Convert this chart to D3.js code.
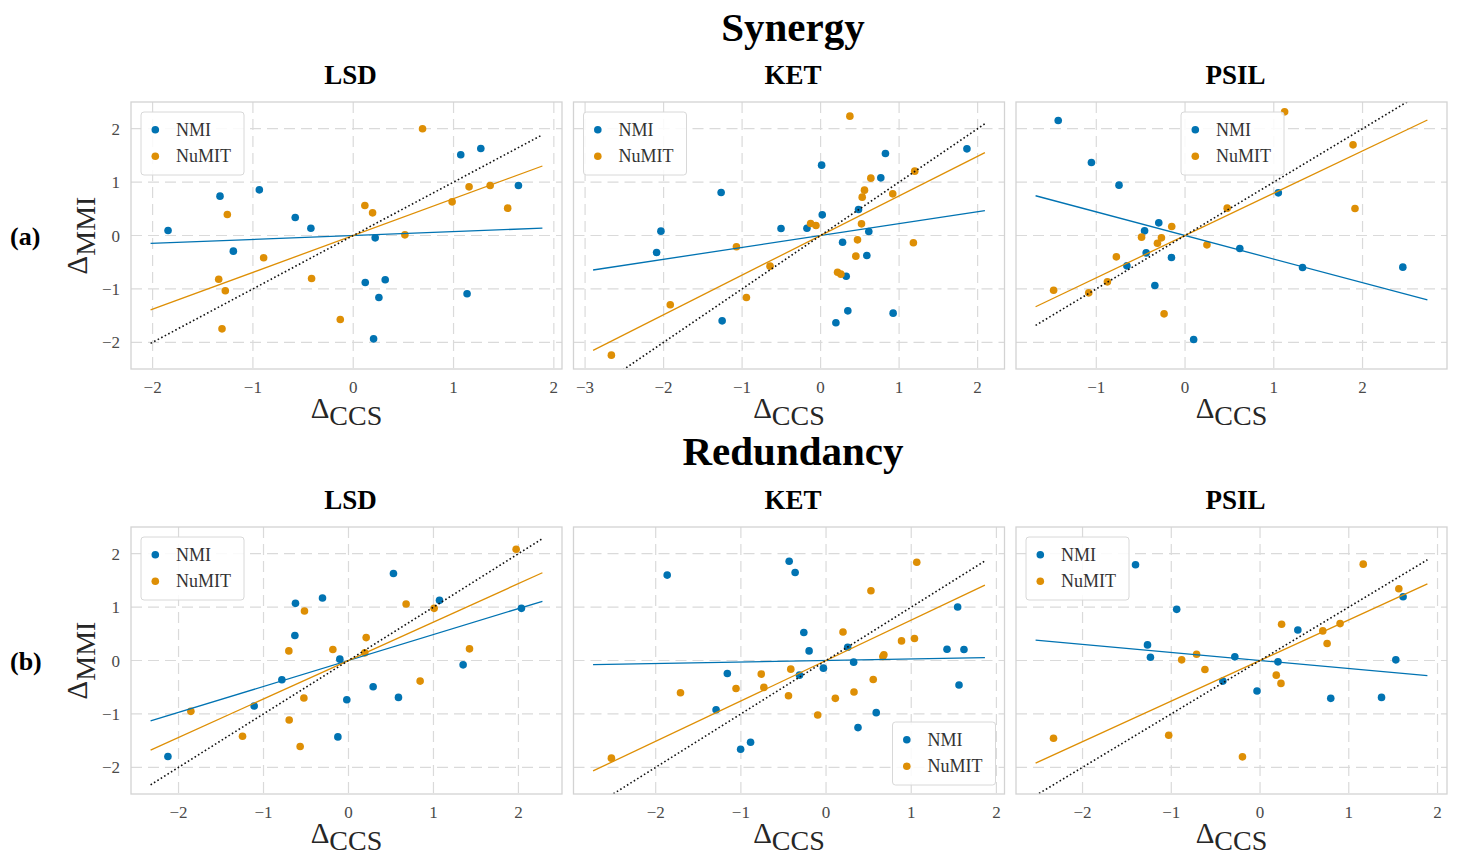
<!DOCTYPE html>
<html>
<head>
<meta charset="utf-8">
<script src="https://cdn.jsdelivr.net/npm/d3@7"></script>
<style>
  html, body { margin: 0; padding: 0; background: #ffffff; }
  svg { display: block; }
  text { font-family: "Liberation Serif", "DejaVu Serif", serif; }
</style>
</head>
<body>
<div id="chart"></div>
<script>
// ---------------- DATA ----------------
const groups = ["Synergy", "Redundancy"];
const groupTags = ["(a)", "(b)"];
const drugs = ["LSD", "KET", "PSIL"];
const seriesNames = ["NMI", "NuMIT"];
const seriesColors = ["#0173b2", "#de8f05"];

// Synergy, LSD
const synLSD_NMI = [[-1.846,0.094],[-1.328,0.737],[-0.936,0.855],[-1.195,-0.293],[-0.578,0.337],[-0.422,0.137],[0.219,-0.044],[0.120,-0.880],[0.319,-0.830],[0.256,-1.161],[0.203,-1.935],[1.072,1.511],[1.272,1.629],[1.647,0.936],[1.135,-1.092]];
const synLSD_NuMIT = [[0.691,1.998],[0.116,0.562],[0.193,0.424],[0.515,0.012],[0.986,0.630],[1.155,0.911],[1.365,0.936],[1.540,0.512],[-1.255,0.393],[-0.893,-0.418],[-1.341,-0.818],[-1.275,-1.036],[-1.308,-1.748],[-0.415,-0.805],[-0.129,-1.573]];
// Synergy, KET
const synKET_NMI = [[-2.034,0.081],[-2.089,-0.318],[-1.267,0.805],[-1.254,-1.598],[-0.504,0.131],[-0.174,0.137],[0.013,1.317],[0.021,0.387],[0.280,-0.125],[0.326,-0.762],[0.347,-1.411],[0.195,-1.635],[0.483,0.487],[0.614,0.075],[0.589,-0.375],[0.767,1.080],[0.826,1.536],[0.924,-1.454],[1.864,1.623]];
const synKET_NuMIT = [[0.373,2.235],[-0.127,0.225],[-0.059,0.187],[-1.072,-0.212],[-0.644,-0.574],[-0.945,-1.161],[-1.915,-1.298],[-2.665,-2.241],[0.216,-0.687],[0.258,-0.724],[0.449,-0.387],[0.470,-0.081],[0.521,0.218],[0.530,0.718],[0.559,0.849],[0.640,1.074],[0.919,0.780],[1.199,1.205],[1.182,-0.137]];
// Synergy, PSIL
const synPSIL_NMI = [[-1.429,2.154],[-1.055,1.367],[-0.744,0.943],[-0.456,0.087],[-0.296,0.237],[-0.438,-0.325],[-0.655,-0.568],[-0.153,-0.412],[-0.340,-0.936],[0.097,-1.948],[0.617,-0.243],[1.051,0.799],[1.324,-0.599],[2.454,-0.593]];
const synPSIL_NuMIT = [[1.122,2.316],[1.893,1.698],[1.915,0.506],[0.475,0.512],[0.247,-0.175],[-0.150,0.169],[-0.266,-0.044],[-0.311,-0.144],[-0.490,-0.031],[-0.774,-0.400],[-0.875,-0.868],[-1.085,-1.074],[-1.481,-1.024],[-0.236,-1.467]];
// Redundancy, LSD
const redLSD_NMI = [[-2.125,-1.798],[-1.110,-0.852],[-0.784,-0.361],[-0.631,0.467],[-0.624,1.070],[-0.306,1.170],[-0.102,0.025],[-0.020,-0.734],[-0.125,-1.431],[0.290,-0.491],[0.529,1.630],[0.588,-0.691],[1.071,1.126],[1.349,-0.081],[2.035,0.977]];
const redLSD_NuMIT = [[-1.855,-0.952],[-1.247,-1.418],[-0.702,0.180],[-0.698,-1.114],[-0.569,-1.611],[-0.525,-0.703],[-0.518,0.927],[-0.184,0.205],[0.208,0.429],[0.192,0.143],[0.678,1.058],[0.843,-0.386],[1.008,0.977],[1.424,0.218],[1.973,2.084]];
// Redundancy, KET
const redKET_NMI = [[-1.865,1.599],[-0.433,1.860],[-0.363,1.649],[-0.261,0.523],[-0.199,0.180],[-1.159,-0.243],[-1.291,-0.921],[-1.003,-1.661],[-0.886,-1.530],[-0.312,-0.274],[-0.031,-0.143],[0.254,0.249],[0.324,-0.031],[0.375,-1.257],[0.589,-0.977],[1.420,0.212],[1.619,0.205],[1.545,1.002],[1.561,-0.460]];
const redKET_NuMIT = [[-2.520,-1.829],[-1.709,-0.603],[-1.057,-0.523],[-0.761,-0.255],[-0.730,-0.504],[-0.414,-0.162],[-0.441,-0.659],[-0.098,-1.020],[0.109,-0.709],[0.199,0.535],[0.328,-0.591],[0.527,1.306],[0.554,-0.355],[0.667,0.075],[0.679,0.106],[0.886,0.367],[1.038,0.411],[1.065,1.841]];
// Redundancy, PSIL
const redPSIL_NMI = [[-1.403,1.792],[-0.939,0.958],[-1.268,0.292],[-1.235,0.062],[-0.284,0.068],[-0.419,-0.386],[-0.034,-0.572],[0.202,-0.025],[0.426,0.572],[0.797,-0.709],[1.369,-0.691],[1.530,0.012],[1.612,1.194]];
const redPSIL_NuMIT = [[-2.327,-1.456],[-1.029,-1.400],[-0.883,0.012],[-0.715,0.118],[-0.621,-0.168],[-0.198,-1.804],[0.183,-0.274],[0.236,-0.429],[0.243,0.678],[0.707,0.554],[0.756,0.317],[0.902,0.691],[1.163,1.804],[1.564,1.344]];

// Fitted slopes (lines through the origin) per drug: LSD, KET, PSIL
const synSlopesNMI   = [0.073, 0.223, -0.442];
const synSlopesNuMIT = [0.690, 0.742, 0.792];
const redSlopesNMI   = [0.486, 0.028, -0.151];
const redSlopesNuMIT = [0.720, 0.756, 0.760];
// x-extent of the fitted lines
const synLineRange = [[-2.02, 1.886], [-2.898, 2.093], [-1.684, 2.731]];
const redLineRange = [[-2.329, 2.282], [-2.735, 1.865], [-2.529, 1.886]];

// tick labels
const yTicks = [-2, -1, 0, 1, 2];
const synXTicks = [[-2, -1, 0, 1, 2], [-3, -2, -1, 0, 1, 2], [-1, 0, 1, 2]];
const redXTicks = [[-2, -1, 0, 1, 2], [-2, -1, 0, 1, 2], [-2, -1, 0, 1, 2]];
const yDomain = [-2.5, 2.5];
// legend placement per panel
const synLegendLoc = ["upper left", "upper left", "upper center"];
const redLegendLoc = ["upper left", "lower right", "upper left"];

// ---------------- LAYOUT ----------------
const W = 1458, H = 856;
const colLeft = [131, 573.5, 1016];
const panelW = 431, panelH = 267;
const rowTop = [102, 527];

const panelData = [
  { pts: [[synLSD_NMI, synLSD_NuMIT], [synKET_NMI, synKET_NuMIT], [synPSIL_NMI, synPSIL_NuMIT]],
    slopes: [synSlopesNMI, synSlopesNuMIT], range: synLineRange, ticks: synXTicks, legend: synLegendLoc },
  { pts: [[redLSD_NMI, redLSD_NuMIT], [redKET_NMI, redKET_NuMIT], [redPSIL_NMI, redPSIL_NuMIT]],
    slopes: [redSlopesNMI, redSlopesNuMIT], range: redLineRange, ticks: redXTicks, legend: redLegendLoc }
];

const svg = d3.select("#chart").append("svg").attr("width", W).attr("height", H);

const figCenter = (colLeft[0] + colLeft[2] + panelW) / 2 + 4;
const groupTitleY = [41, 465];
const panelTitleY = [84, 509];
const fmt = d => d3.format("d")(d).replace("-", "\u2212");

groups.forEach((g, gi) => {
  svg.append("text").attr("x", figCenter).attr("y", groupTitleY[gi])
    .attr("text-anchor", "middle").attr("font-size", 41).attr("font-weight", "bold")
    .attr("fill", "#000").text(g);
  svg.append("text").attr("x", 10).attr("y", rowTop[gi] + panelH / 2 + 9)
    .attr("font-size", 26).attr("font-weight", "bold").attr("fill", "#000").text(groupTags[gi]);

  const pd = panelData[gi];
  drugs.forEach((drug, di) => {
    const x0 = colLeft[di], y0 = rowTop[gi];
    const lr = pd.range[di];
    const pad = (lr[1] - lr[0]) * 0.05;
    const xs = d3.scaleLinear().domain([lr[0] - pad, lr[1] + pad]).range([x0, x0 + panelW]);
    const ys = d3.scaleLinear().domain(yDomain).range([y0 + panelH, y0]);

    const clipId = `clip-${gi}-${di}`;
    svg.append("clipPath").attr("id", clipId).append("rect")
      .attr("x", x0).attr("y", y0).attr("width", panelW).attr("height", panelH);

    const p = svg.append("g");
    // grid
    p.selectAll("line.vg").data(pd.ticks[di]).enter().append("line")
      .attr("x1", d => xs(d)).attr("x2", d => xs(d)).attr("y1", y0).attr("y2", y0 + panelH)
      .attr("stroke", "#dadada").attr("stroke-width", 1.2).attr("stroke-dasharray", "11,6");
    p.selectAll("line.hg").data(yTicks).enter().append("line")
      .attr("x1", x0).attr("x2", x0 + panelW).attr("y1", d => ys(d)).attr("y2", d => ys(d))
      .attr("stroke", "#dadada").attr("stroke-width", 1.2).attr("stroke-dasharray", "11,6");

    // tick labels
    p.selectAll("text.xt").data(pd.ticks[di]).enter().append("text")
      .attr("x", d => xs(d)).attr("y", y0 + panelH + 24).attr("text-anchor", "middle")
      .attr("font-size", 17).attr("fill", "#4a4a4a").text(fmt);
    if (di === 0) {
      p.selectAll("text.yt").data(yTicks).enter().append("text")
        .attr("x", x0 - 11).attr("y", d => ys(d) + 6).attr("text-anchor", "end")
        .attr("font-size", 17).attr("fill", "#4a4a4a").text(fmt);
    }

    // points
    const plot = p.append("g").attr("clip-path", `url(#${clipId})`);
    seriesNames.forEach((s, si) => {
      plot.selectAll(null).data(pd.pts[di][si]).enter().append("circle")
        .attr("cx", d => xs(d[0])).attr("cy", d => ys(d[1])).attr("r", 3.8)
        .attr("fill", seriesColors[si]);
    });
    // fitted lines
    seriesNames.forEach((s, si) => {
      const k = pd.slopes[si][di];
      plot.append("line")
        .attr("x1", xs(lr[0])).attr("y1", ys(k * lr[0]))
        .attr("x2", xs(lr[1])).attr("y2", ys(k * lr[1]))
        .attr("stroke", seriesColors[si]).attr("stroke-width", 1.3);
    });
    // identity line
    plot.append("line")
      .attr("x1", xs(lr[0])).attr("y1", ys(lr[0]))
      .attr("x2", xs(lr[1])).attr("y2", ys(lr[1]))
      .attr("stroke", "#111").attr("stroke-width", 1.6).attr("stroke-dasharray", "1.6,2.4");

    // frame
    p.append("rect").attr("x", x0).attr("y", y0).attr("width", panelW).attr("height", panelH)
      .attr("fill", "none").attr("stroke", "#d3d3d3").attr("stroke-width", 1.3);

    // panel title
    svg.append("text").attr("x", x0 + panelW / 2 + 4).attr("y", panelTitleY[gi])
      .attr("text-anchor", "middle").attr("font-size", 27).attr("font-weight", "bold")
      .attr("fill", "#000").text(drug);

    // x label
    const xl = svg.append("text").attr("x", x0 + panelW / 2).attr("y", y0 + panelH + 49)
      .attr("text-anchor", "middle").attr("fill", "#262626");
    xl.append("tspan").attr("font-size", 29).text("\u0394");
    xl.append("tspan").attr("font-size", 28).attr("dy", 7).text("CCS");

    // y label (first column only)
    if (di === 0) {
      const cx = 87, cy = y0 + panelH / 2;
      const yl = svg.append("text").attr("transform", `translate(${cx},${cy}) rotate(-90)`)
        .attr("text-anchor", "middle").attr("fill", "#262626");
      yl.append("tspan").attr("font-size", 29).text("\u0394");
      yl.append("tspan").attr("font-size", 28).attr("dy", 8).text("MMI");
    }

    // legend
    const lw = 103, lh = 63;
    const loc = pd.legend[di];
    let lx, ly;
    if (loc === "upper left") { lx = x0 + 10; ly = y0 + 10; }
    else if (loc === "upper center") { lx = x0 + panelW / 2 - lw / 2 + 1; ly = y0 + 10; }
    else { lx = x0 + panelW - 9 - lw; ly = y0 + panelH - 9 - lh; }
    const lg = svg.append("g").attr("transform", `translate(${lx},${ly})`);
    lg.append("rect").attr("width", lw).attr("height", lh).attr("rx", 3)
      .attr("fill", "#ffffff").attr("fill-opacity", 0.85)
      .attr("stroke", "#d8d8d8").attr("stroke-width", 1);
    seriesNames.forEach((s, si) => {
      const yy = 17.7 + si * 26.6;
      lg.append("circle").attr("cx", 14.3).attr("cy", yy).attr("r", 3.8).attr("fill", seriesColors[si]);
      lg.append("text").attr("x", 35).attr("y", yy + 6).attr("font-size", 18)
        .attr("fill", "#333").text(s);
    });
  });
});
</script>
</body>
</html>
